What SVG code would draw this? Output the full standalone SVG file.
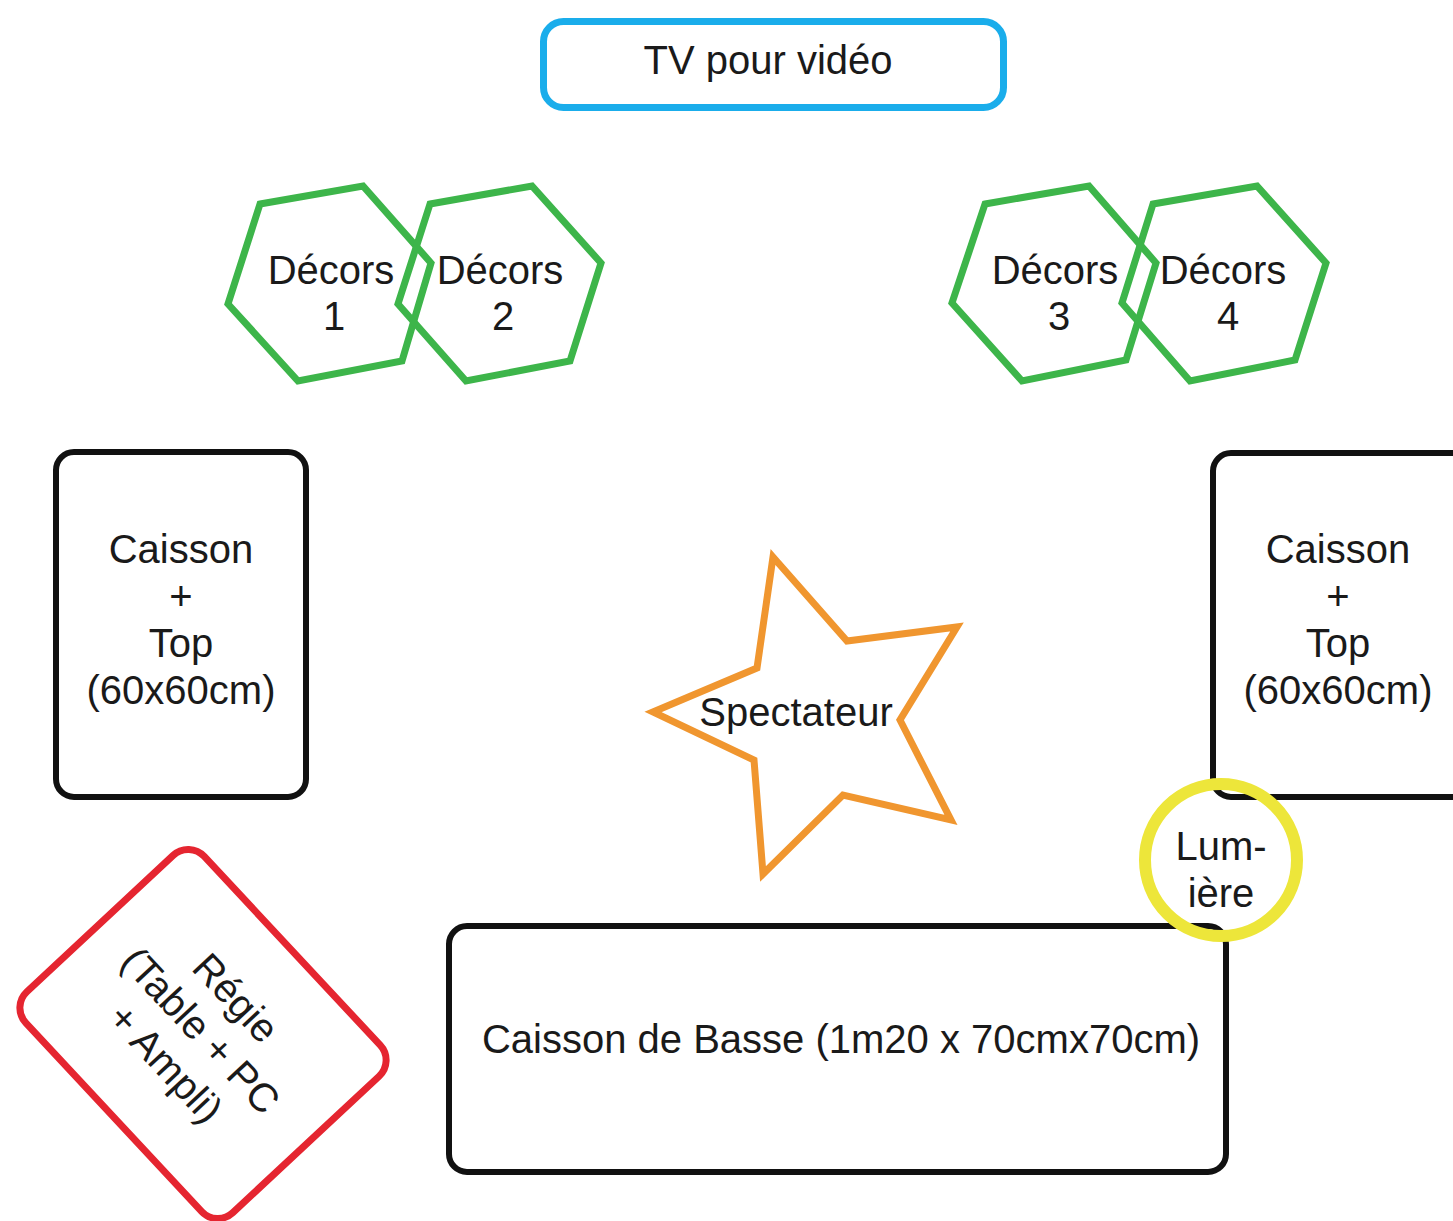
<svg xmlns="http://www.w3.org/2000/svg" width="1453" height="1221" viewBox="0 0 1453 1221">
<style>
text{font-family:"Liberation Sans",Arial,sans-serif;font-size:40px;fill:#1a1a1a;text-anchor:middle}
.box{fill:none;stroke:#111;stroke-width:6}
.hex{fill:none;stroke:#3DB54A;stroke-width:7;stroke-linejoin:miter}
</style>
<rect width="1453" height="1221" fill="#fff"/>
<g id="tv">
<rect x="543.5" y="21.5" width="460" height="86" rx="20" fill="none" stroke="#1AADEB" stroke-width="7"/>
<text x="768" y="74">TV pour vidéo</text>
</g>
<g id="decors1">
<polygon class="hex" points="260,204 363,186 431,263 402,361 298,381 228,304"/>
<text x="331" y="284">Décors</text><text x="334" y="330">1</text>
</g>
<g id="decors2">
<polygon class="hex" points="430,204 532,186 601,263 570,361 466,381 398,304"/>
<text x="500" y="284">Décors</text><text x="503" y="330">2</text>
</g>
<g id="decors3">
<polygon class="hex" points="985,204 1089,186 1156,263 1126,360 1022,381 952,303"/>
<text x="1055" y="284">Décors</text><text x="1059" y="330">3</text>
</g>
<g id="decors4">
<polygon class="hex" points="1153,204 1257,186 1326,263 1295,360 1190,381 1122,303"/>
<text x="1223" y="284">Décors</text><text x="1228" y="330">4</text>
</g>
<g id="caisson-left">
<rect class="box" x="56" y="452" width="250" height="345" rx="18"/>
<text x="181" y="563">Caisson</text>
<text x="181" y="610">+</text>
<text x="181" y="657">Top</text>
<text x="181" y="704">(60x60cm)</text>
</g>
<g id="caisson-right">
<rect class="box" x="1213" y="453" width="260" height="344" rx="18"/>
<text x="1338" y="563">Caisson</text>
<text x="1338" y="610">+</text>
<text x="1338" y="657">Top</text>
<text x="1338" y="704">(60x60cm)</text>
</g>
<g id="spectateur">
<polygon points="773,557 847,641 957,627 900,720 951,820 843,795 763,874 754,760 653,712 757,668" fill="none" stroke="#F0962F" stroke-width="7"/>
<text x="796" y="726">Spectateur</text>
</g>
<g id="caisson-basse">
<rect class="box" x="449" y="926" width="777" height="246" rx="18"/>
<text x="841" y="1053">Caisson de Basse (1m20 x 70cmx70cm)</text>
</g>
<g id="lumiere">
<circle cx="1221" cy="860" r="76" fill="none" stroke="#EDE63A" stroke-width="12"/>
<text x="1221" y="860">Lum-</text>
<text x="1221" y="907">ière</text>
</g>
<g id="regie" transform="translate(203,1034) rotate(47)">
<rect x="-151" y="-122" width="302" height="244" rx="22" fill="none" stroke="#E52530" stroke-width="7"/>
<text x="-4" y="-35">Régie</text>
<text x="-4" y="13">(Table + PC</text>
<text x="-4" y="61">+ Ampli)</text>
</g>
<g id="connectors"/>
</svg>
